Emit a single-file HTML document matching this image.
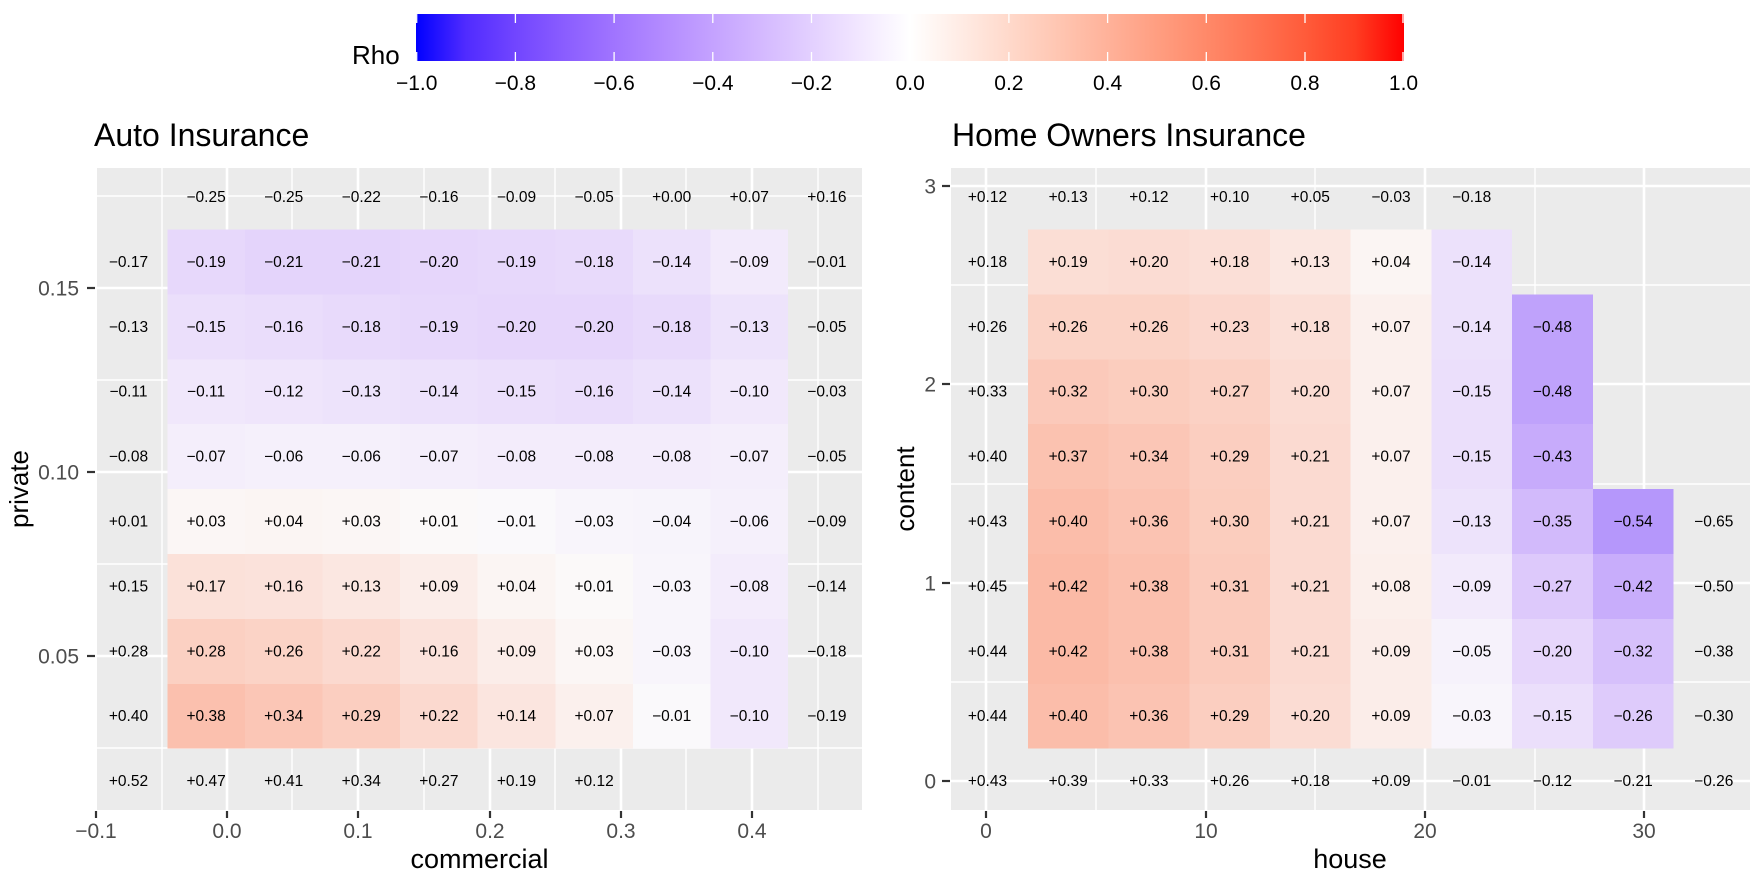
<!DOCTYPE html>
<html><head><meta charset="utf-8"><style>
html,body{margin:0;padding:0;background:#fff;}
svg{display:block;font-family:"Liberation Sans",Arial,sans-serif;}
</style></head><body>
<svg width="1750" height="882" viewBox="0 0 1750 882" xmlns="http://www.w3.org/2000/svg">
<defs>
<linearGradient id="cb" x1="0" y1="0" x2="1" y2="0">
<stop offset="0%" stop-color="rgb(0,0,255)"/>
<stop offset="5%" stop-color="rgb(80,43,255)"/>
<stop offset="10%" stop-color="rgb(113,69,255)"/>
<stop offset="15%" stop-color="rgb(138,93,255)"/>
<stop offset="20%" stop-color="rgb(160,116,255)"/>
<stop offset="25%" stop-color="rgb(179,139,255)"/>
<stop offset="30%" stop-color="rgb(196,162,255)"/>
<stop offset="35%" stop-color="rgb(212,185,255)"/>
<stop offset="40%" stop-color="rgb(227,208,255)"/>
<stop offset="45%" stop-color="rgb(242,231,255)"/>
<stop offset="50%" stop-color="rgb(255,255,255)"/>
<stop offset="55%" stop-color="rgb(255,236,229)"/>
<stop offset="60%" stop-color="rgb(255,217,203)"/>
<stop offset="65%" stop-color="rgb(255,198,178)"/>
<stop offset="70%" stop-color="rgb(255,178,154)"/>
<stop offset="75%" stop-color="rgb(255,158,129)"/>
<stop offset="80%" stop-color="rgb(255,137,105)"/>
<stop offset="85%" stop-color="rgb(255,115,82)"/>
<stop offset="90%" stop-color="rgb(255,91,58)"/>
<stop offset="95%" stop-color="rgb(255,62,34)"/>
<stop offset="100%" stop-color="rgb(255,0,0)"/>
</linearGradient>
</defs>

<!-- Colorbar legend -->
<rect x="416" y="14" width="988" height="47" fill="url(#cb)"/>
<g stroke="#fff" stroke-width="1.3">
<line x1="416.7" y1="14" x2="416.7" y2="23"/><line x1="416.7" y1="52" x2="416.7" y2="61"/>
<line x1="515.4" y1="14" x2="515.4" y2="23"/><line x1="515.4" y1="52" x2="515.4" y2="61"/>
<line x1="614.1" y1="14" x2="614.1" y2="23"/><line x1="614.1" y1="52" x2="614.1" y2="61"/>
<line x1="712.8" y1="14" x2="712.8" y2="23"/><line x1="712.8" y1="52" x2="712.8" y2="61"/>
<line x1="811.5" y1="14" x2="811.5" y2="23"/><line x1="811.5" y1="52" x2="811.5" y2="61"/>
<line x1="910.2" y1="14" x2="910.2" y2="23"/><line x1="910.2" y1="52" x2="910.2" y2="61"/>
<line x1="1008.9" y1="14" x2="1008.9" y2="23"/><line x1="1008.9" y1="52" x2="1008.9" y2="61"/>
<line x1="1107.6" y1="14" x2="1107.6" y2="23"/><line x1="1107.6" y1="52" x2="1107.6" y2="61"/>
<line x1="1206.3" y1="14" x2="1206.3" y2="23"/><line x1="1206.3" y1="52" x2="1206.3" y2="61"/>
<line x1="1305" y1="14" x2="1305" y2="23"/><line x1="1305" y1="52" x2="1305" y2="61"/>
<line x1="1403" y1="14" x2="1403" y2="23"/><line x1="1403" y1="52" x2="1403" y2="61"/>
</g>
<text x="352" y="64" font-size="26" fill="#000">Rho</text>
<g font-size="21" fill="#000" text-anchor="middle">
<text x="416.7" y="90">−1.0</text>
<text x="515.4" y="90">−0.8</text>
<text x="614.1" y="90">−0.6</text>
<text x="712.8" y="90">−0.4</text>
<text x="811.5" y="90">−0.2</text>
<text x="910.2" y="90">0.0</text>
<text x="1008.9" y="90">0.2</text>
<text x="1107.6" y="90">0.4</text>
<text x="1206.3" y="90">0.6</text>
<text x="1305" y="90">0.8</text>
<text x="1403.5" y="90">1.0</text>
</g>

<!-- Titles -->
<text x="94" y="146" font-size="32" fill="#000">Auto Insurance</text>
<text x="952" y="146" font-size="32" fill="#000">Home Owners Insurance</text>

<!-- ============ LEFT PANEL ============ -->
<rect x="97" y="168" width="765" height="642" fill="#EBEBEB"/>
<g stroke="#fff" stroke-width="1.4">
<line x1="162" y1="168" x2="162" y2="810"/>
<line x1="292" y1="168" x2="292" y2="810"/>
<line x1="424" y1="168" x2="424" y2="810"/>
<line x1="555" y1="168" x2="555" y2="810"/>
<line x1="686" y1="168" x2="686" y2="810"/>
<line x1="818" y1="168" x2="818" y2="810"/>
<line x1="97" y1="196" x2="862" y2="196"/>
<line x1="97" y1="380" x2="862" y2="380"/>
<line x1="97" y1="564" x2="862" y2="564"/>
<line x1="97" y1="748" x2="862" y2="748"/>
</g>
<g stroke="#fff" stroke-width="2.6">
<line x1="227" y1="168" x2="227" y2="810"/>
<line x1="358" y1="168" x2="358" y2="810"/>
<line x1="490" y1="168" x2="490" y2="810"/>
<line x1="621" y1="168" x2="621" y2="810"/>
<line x1="752" y1="168" x2="752" y2="810"/>
<line x1="97" y1="288" x2="862" y2="288"/>
<line x1="97" y1="472" x2="862" y2="472"/>
<line x1="97" y1="656" x2="862" y2="656"/>
</g>
<!-- left tiles -->
<g shape-rendering="crispEdges">
<!-- row1 -->
<rect x="167.3" y="229.5" width="78.1" height="65.4" fill="rgb(231,216,251)"/>
<rect x="244.9" y="229.5" width="78.1" height="65.4" fill="rgb(228,212,251)"/>
<rect x="322.5" y="229.5" width="78.1" height="65.4" fill="rgb(228,212,251)"/>
<rect x="400.1" y="229.5" width="78.1" height="65.4" fill="rgb(230,214,251)"/>
<rect x="477.7" y="229.5" width="78.1" height="65.4" fill="rgb(231,216,251)"/>
<rect x="555.3" y="229.5" width="78.1" height="65.4" fill="rgb(232,218,251)"/>
<rect x="632.9" y="229.5" width="78.1" height="65.4" fill="rgb(236,225,251)"/>
<rect x="710.5" y="229.5" width="77.6" height="65.4" fill="rgb(242,234,251)"/>
<!-- row2 -->
<rect x="167.3" y="294.4" width="78.1" height="65.4" fill="rgb(235,223,251)"/>
<rect x="244.9" y="294.4" width="78.1" height="65.4" fill="rgb(234,221,251)"/>
<rect x="322.5" y="294.4" width="78.1" height="65.4" fill="rgb(232,218,251)"/>
<rect x="400.1" y="294.4" width="78.1" height="65.4" fill="rgb(231,216,251)"/>
<rect x="477.7" y="294.4" width="78.1" height="65.4" fill="rgb(230,214,251)"/>
<rect x="555.3" y="294.4" width="78.1" height="65.4" fill="rgb(230,214,251)"/>
<rect x="632.9" y="294.4" width="78.1" height="65.4" fill="rgb(232,218,251)"/>
<rect x="710.5" y="294.4" width="77.6" height="65.4" fill="rgb(237,227,251)"/>
<!-- row3 -->
<rect x="167.3" y="359.3" width="78.1" height="65.4" fill="rgb(240,231,251)"/>
<rect x="244.9" y="359.3" width="78.1" height="65.4" fill="rgb(239,229,251)"/>
<rect x="322.5" y="359.3" width="78.1" height="65.4" fill="rgb(237,227,251)"/>
<rect x="400.1" y="359.3" width="78.1" height="65.4" fill="rgb(236,225,251)"/>
<rect x="477.7" y="359.3" width="78.1" height="65.4" fill="rgb(235,223,251)"/>
<rect x="555.3" y="359.3" width="78.1" height="65.4" fill="rgb(234,221,251)"/>
<rect x="632.9" y="359.3" width="78.1" height="65.4" fill="rgb(236,225,251)"/>
<rect x="710.5" y="359.3" width="77.6" height="65.4" fill="rgb(241,232,251)"/>
<!-- row4 -->
<rect x="167.3" y="424.2" width="78.1" height="65.4" fill="rgb(244,238,251)"/>
<rect x="244.9" y="424.2" width="78.1" height="65.4" fill="rgb(245,240,251)"/>
<rect x="322.5" y="424.2" width="78.1" height="65.4" fill="rgb(245,240,251)"/>
<rect x="400.1" y="424.2" width="78.1" height="65.4" fill="rgb(244,238,251)"/>
<rect x="477.7" y="424.2" width="78.1" height="65.4" fill="rgb(243,236,251)"/>
<rect x="555.3" y="424.2" width="78.1" height="65.4" fill="rgb(243,236,251)"/>
<rect x="632.9" y="424.2" width="78.1" height="65.4" fill="rgb(243,236,251)"/>
<rect x="710.5" y="424.2" width="77.6" height="65.4" fill="rgb(244,238,251)"/>
<!-- row5 -->
<rect x="167.3" y="489.1" width="78.1" height="65.4" fill="rgb(251,246,245)"/>
<rect x="244.9" y="489.1" width="78.1" height="65.4" fill="rgb(251,245,243)"/>
<rect x="322.5" y="489.1" width="78.1" height="65.4" fill="rgb(251,246,245)"/>
<rect x="400.1" y="489.1" width="78.1" height="65.4" fill="rgb(251,249,249)"/>
<rect x="477.7" y="489.1" width="78.1" height="65.4" fill="rgb(250,249,251)"/>
<rect x="555.3" y="489.1" width="78.1" height="65.4" fill="rgb(248,245,251)"/>
<rect x="632.9" y="489.1" width="78.1" height="65.4" fill="rgb(247,244,251)"/>
<rect x="710.5" y="489.1" width="77.6" height="65.4" fill="rgb(245,240,251)"/>
<!-- row6 -->
<rect x="167.3" y="554" width="78.1" height="65.4" fill="rgb(251,225,217)"/>
<rect x="244.9" y="554" width="78.1" height="65.4" fill="rgb(251,226,219)"/>
<rect x="322.5" y="554" width="78.1" height="65.4" fill="rgb(251,231,225)"/>
<rect x="400.1" y="554" width="78.1" height="65.4" fill="rgb(251,237,233)"/>
<rect x="477.7" y="554" width="78.1" height="65.4" fill="rgb(251,245,243)"/>
<rect x="555.3" y="554" width="78.1" height="65.4" fill="rgb(251,249,249)"/>
<rect x="632.9" y="554" width="78.1" height="65.4" fill="rgb(248,245,251)"/>
<rect x="710.5" y="554" width="77.6" height="65.4" fill="rgb(243,236,251)"/>
<!-- row7 -->
<rect x="167.3" y="618.9" width="78.1" height="65.4" fill="rgb(251,208,194)"/>
<rect x="244.9" y="618.9" width="78.1" height="65.4" fill="rgb(251,211,198)"/>
<rect x="322.5" y="618.9" width="78.1" height="65.4" fill="rgb(251,217,207)"/>
<rect x="400.1" y="618.9" width="78.1" height="65.4" fill="rgb(251,226,219)"/>
<rect x="477.7" y="618.9" width="78.1" height="65.4" fill="rgb(251,237,233)"/>
<rect x="555.3" y="618.9" width="78.1" height="65.4" fill="rgb(251,246,245)"/>
<rect x="632.9" y="618.9" width="78.1" height="65.4" fill="rgb(248,245,251)"/>
<rect x="710.5" y="618.9" width="77.6" height="65.4" fill="rgb(241,232,251)"/>
<!-- row8 -->
<rect x="167.3" y="683.8" width="78.1" height="64.9" fill="rgb(251,192,174)"/>
<rect x="244.9" y="683.8" width="78.1" height="64.9" fill="rgb(251,198,182)"/>
<rect x="322.5" y="683.8" width="78.1" height="64.9" fill="rgb(251,206,192)"/>
<rect x="400.1" y="683.8" width="78.1" height="64.9" fill="rgb(251,217,207)"/>
<rect x="477.7" y="683.8" width="78.1" height="64.9" fill="rgb(251,229,223)"/>
<rect x="555.3" y="683.8" width="78.1" height="64.9" fill="rgb(251,240,237)"/>
<rect x="632.9" y="683.8" width="78.1" height="64.9" fill="rgb(250,249,251)"/>
<rect x="710.5" y="683.8" width="77.6" height="64.9" fill="rgb(241,232,251)"/>
</g>
<!-- left texts -->
<g font-size="15.5" fill="#000" text-anchor="middle">
<text x="206.1" y="202">−0.25</text><text x="283.7" y="202">−0.25</text><text x="361.3" y="202">−0.22</text><text x="438.9" y="202">−0.16</text><text x="516.5" y="202">−0.09</text><text x="594.1" y="202">−0.05</text><text x="671.7" y="202">+0.00</text><text x="749.3" y="202">+0.07</text><text x="826.9" y="202">+0.16</text>
<text x="128.5" y="266.9">−0.17</text><text x="206.1" y="266.9">−0.19</text><text x="283.7" y="266.9">−0.21</text><text x="361.3" y="266.9">−0.21</text><text x="438.9" y="266.9">−0.20</text><text x="516.5" y="266.9">−0.19</text><text x="594.1" y="266.9">−0.18</text><text x="671.7" y="266.9">−0.14</text><text x="749.3" y="266.9">−0.09</text><text x="826.9" y="266.9">−0.01</text>
<text x="128.5" y="331.8">−0.13</text><text x="206.1" y="331.8">−0.15</text><text x="283.7" y="331.8">−0.16</text><text x="361.3" y="331.8">−0.18</text><text x="438.9" y="331.8">−0.19</text><text x="516.5" y="331.8">−0.20</text><text x="594.1" y="331.8">−0.20</text><text x="671.7" y="331.8">−0.18</text><text x="749.3" y="331.8">−0.13</text><text x="826.9" y="331.8">−0.05</text>
<text x="128.5" y="396.7">−0.11</text><text x="206.1" y="396.7">−0.11</text><text x="283.7" y="396.7">−0.12</text><text x="361.3" y="396.7">−0.13</text><text x="438.9" y="396.7">−0.14</text><text x="516.5" y="396.7">−0.15</text><text x="594.1" y="396.7">−0.16</text><text x="671.7" y="396.7">−0.14</text><text x="749.3" y="396.7">−0.10</text><text x="826.9" y="396.7">−0.03</text>
<text x="128.5" y="461.6">−0.08</text><text x="206.1" y="461.6">−0.07</text><text x="283.7" y="461.6">−0.06</text><text x="361.3" y="461.6">−0.06</text><text x="438.9" y="461.6">−0.07</text><text x="516.5" y="461.6">−0.08</text><text x="594.1" y="461.6">−0.08</text><text x="671.7" y="461.6">−0.08</text><text x="749.3" y="461.6">−0.07</text><text x="826.9" y="461.6">−0.05</text>
<text x="128.5" y="526.5">+0.01</text><text x="206.1" y="526.5">+0.03</text><text x="283.7" y="526.5">+0.04</text><text x="361.3" y="526.5">+0.03</text><text x="438.9" y="526.5">+0.01</text><text x="516.5" y="526.5">−0.01</text><text x="594.1" y="526.5">−0.03</text><text x="671.7" y="526.5">−0.04</text><text x="749.3" y="526.5">−0.06</text><text x="826.9" y="526.5">−0.09</text>
<text x="128.5" y="591.4">+0.15</text><text x="206.1" y="591.4">+0.17</text><text x="283.7" y="591.4">+0.16</text><text x="361.3" y="591.4">+0.13</text><text x="438.9" y="591.4">+0.09</text><text x="516.5" y="591.4">+0.04</text><text x="594.1" y="591.4">+0.01</text><text x="671.7" y="591.4">−0.03</text><text x="749.3" y="591.4">−0.08</text><text x="826.9" y="591.4">−0.14</text>
<text x="128.5" y="656.3">+0.28</text><text x="206.1" y="656.3">+0.28</text><text x="283.7" y="656.3">+0.26</text><text x="361.3" y="656.3">+0.22</text><text x="438.9" y="656.3">+0.16</text><text x="516.5" y="656.3">+0.09</text><text x="594.1" y="656.3">+0.03</text><text x="671.7" y="656.3">−0.03</text><text x="749.3" y="656.3">−0.10</text><text x="826.9" y="656.3">−0.18</text>
<text x="128.5" y="721.2">+0.40</text><text x="206.1" y="721.2">+0.38</text><text x="283.7" y="721.2">+0.34</text><text x="361.3" y="721.2">+0.29</text><text x="438.9" y="721.2">+0.22</text><text x="516.5" y="721.2">+0.14</text><text x="594.1" y="721.2">+0.07</text><text x="671.7" y="721.2">−0.01</text><text x="749.3" y="721.2">−0.10</text><text x="826.9" y="721.2">−0.19</text>
<text x="128.5" y="786.1">+0.52</text><text x="206.1" y="786.1">+0.47</text><text x="283.7" y="786.1">+0.41</text><text x="361.3" y="786.1">+0.34</text><text x="438.9" y="786.1">+0.27</text><text x="516.5" y="786.1">+0.19</text><text x="594.1" y="786.1">+0.12</text>
</g>
<!-- left axes -->
<g stroke="#333" stroke-width="2.2">
<line x1="87" y1="288" x2="95" y2="288"/>
<line x1="87" y1="472" x2="95" y2="472"/>
<line x1="87" y1="656" x2="95" y2="656"/>
<line x1="96" y1="811" x2="96" y2="818"/>
<line x1="227" y1="811" x2="227" y2="818"/>
<line x1="358" y1="811" x2="358" y2="818"/>
<line x1="490" y1="811" x2="490" y2="818"/>
<line x1="621" y1="811" x2="621" y2="818"/>
<line x1="752" y1="811" x2="752" y2="818"/>
</g>
<g font-size="21" fill="#4D4D4D" text-anchor="end">
<text x="79" y="295.5">0.15</text>
<text x="79" y="479.5">0.10</text>
<text x="79" y="663.5">0.05</text>
</g>
<g font-size="21" fill="#4D4D4D" text-anchor="middle">
<text x="96" y="838">−0.1</text>
<text x="227" y="838">0.0</text>
<text x="358" y="838">0.1</text>
<text x="490" y="838">0.2</text>
<text x="621" y="838">0.3</text>
<text x="752" y="838">0.4</text>
</g>
<text x="479.5" y="868" font-size="27" fill="#000" text-anchor="middle">commercial</text>
<text transform="translate(28,489) rotate(-90)" x="0" y="0" font-size="26" fill="#000" text-anchor="middle">private</text>

<!-- ============ RIGHT PANEL ============ -->
<rect x="951" y="168" width="799" height="642" fill="#EBEBEB"/>
<g stroke="#fff" stroke-width="1.4">
<line x1="1096" y1="168" x2="1096" y2="810"/>
<line x1="1315" y1="168" x2="1315" y2="810"/>
<line x1="1535" y1="168" x2="1535" y2="810"/>
<line x1="951" y1="682" x2="1750" y2="682"/>
<line x1="951" y1="484" x2="1750" y2="484"/>
<line x1="951" y1="285" x2="1750" y2="285"/>
</g>
<g stroke="#fff" stroke-width="2.6">
<line x1="986" y1="168" x2="986" y2="810"/>
<line x1="1206" y1="168" x2="1206" y2="810"/>
<line x1="1425" y1="168" x2="1425" y2="810"/>
<line x1="1644" y1="168" x2="1644" y2="810"/>
<line x1="951" y1="781" x2="1750" y2="781"/>
<line x1="951" y1="583" x2="1750" y2="583"/>
<line x1="951" y1="384" x2="1750" y2="384"/>
<line x1="951" y1="186" x2="1750" y2="186"/>
</g>
<!-- right tiles -->
<g shape-rendering="crispEdges">
<!-- row1 -->
<rect x="1027.9" y="229.5" width="81.2" height="65.4" fill="rgb(251,222,213)"/>
<rect x="1108.6" y="229.5" width="81.2" height="65.4" fill="rgb(251,220,211)"/>
<rect x="1189.3" y="229.5" width="81.2" height="65.4" fill="rgb(251,223,215)"/>
<rect x="1270" y="229.5" width="81.2" height="65.4" fill="rgb(251,231,225)"/>
<rect x="1350.7" y="229.5" width="81.2" height="65.4" fill="rgb(251,245,243)"/>
<rect x="1431.4" y="229.5" width="80.7" height="65.4" fill="rgb(236,225,251)"/>
<!-- row2 -->
<rect x="1027.9" y="294.4" width="81.2" height="65.4" fill="rgb(251,211,198)"/>
<rect x="1108.6" y="294.4" width="81.2" height="65.4" fill="rgb(251,211,198)"/>
<rect x="1189.3" y="294.4" width="81.2" height="65.4" fill="rgb(251,215,205)"/>
<rect x="1270" y="294.4" width="81.2" height="65.4" fill="rgb(251,223,215)"/>
<rect x="1350.7" y="294.4" width="81.2" height="65.4" fill="rgb(251,240,237)"/>
<rect x="1431.4" y="294.4" width="81.2" height="65.4" fill="rgb(236,225,251)"/>
<rect x="1512.1" y="294.4" width="80.7" height="65.4" fill="rgb(191,162,251)"/>
<!-- row3 -->
<rect x="1027.9" y="359.3" width="81.2" height="65.4" fill="rgb(251,201,186)"/>
<rect x="1108.6" y="359.3" width="81.2" height="65.4" fill="rgb(251,205,190)"/>
<rect x="1189.3" y="359.3" width="81.2" height="65.4" fill="rgb(251,209,196)"/>
<rect x="1270" y="359.3" width="81.2" height="65.4" fill="rgb(251,220,211)"/>
<rect x="1350.7" y="359.3" width="81.2" height="65.4" fill="rgb(251,240,237)"/>
<rect x="1431.4" y="359.3" width="81.2" height="65.4" fill="rgb(235,223,251)"/>
<rect x="1512.1" y="359.3" width="80.7" height="65.4" fill="rgb(191,162,251)"/>
<!-- row4 -->
<rect x="1027.9" y="424.2" width="81.2" height="65.4" fill="rgb(251,194,176)"/>
<rect x="1108.6" y="424.2" width="81.2" height="65.4" fill="rgb(251,198,182)"/>
<rect x="1189.3" y="424.2" width="81.2" height="65.4" fill="rgb(251,206,192)"/>
<rect x="1270" y="424.2" width="81.2" height="65.4" fill="rgb(251,218,209)"/>
<rect x="1350.7" y="424.2" width="81.2" height="65.4" fill="rgb(251,240,237)"/>
<rect x="1431.4" y="424.2" width="81.2" height="65.4" fill="rgb(235,223,251)"/>
<rect x="1512.1" y="424.2" width="80.7" height="65.4" fill="rgb(199,171,251)"/>
<!-- row5 -->
<rect x="1027.9" y="489.1" width="81.2" height="65.4" fill="rgb(251,189,170)"/>
<rect x="1108.6" y="489.1" width="81.2" height="65.4" fill="rgb(251,195,178)"/>
<rect x="1189.3" y="489.1" width="81.2" height="65.4" fill="rgb(251,205,190)"/>
<rect x="1270" y="489.1" width="81.2" height="65.4" fill="rgb(251,218,209)"/>
<rect x="1350.7" y="489.1" width="81.2" height="65.4" fill="rgb(251,240,237)"/>
<rect x="1431.4" y="489.1" width="81.2" height="65.4" fill="rgb(237,227,251)"/>
<rect x="1512.1" y="489.1" width="81.2" height="65.4" fill="rgb(210,186,251)"/>
<rect x="1592.8" y="489.1" width="80.7" height="65.4" fill="rgb(181,151,251)"/>
<!-- row6 -->
<rect x="1027.9" y="554" width="81.2" height="65.4" fill="rgb(251,186,166)"/>
<rect x="1108.6" y="554" width="81.2" height="65.4" fill="rgb(251,192,174)"/>
<rect x="1189.3" y="554" width="81.2" height="65.4" fill="rgb(251,203,188)"/>
<rect x="1270" y="554" width="81.2" height="65.4" fill="rgb(251,218,209)"/>
<rect x="1350.7" y="554" width="81.2" height="65.4" fill="rgb(251,239,235)"/>
<rect x="1431.4" y="554" width="81.2" height="65.4" fill="rgb(242,234,251)"/>
<rect x="1512.1" y="554" width="81.2" height="65.4" fill="rgb(221,201,251)"/>
<rect x="1592.8" y="554" width="80.7" height="65.4" fill="rgb(200,173,251)"/>
<!-- row7 -->
<rect x="1027.9" y="618.9" width="81.2" height="65.4" fill="rgb(251,186,166)"/>
<rect x="1108.6" y="618.9" width="81.2" height="65.4" fill="rgb(251,192,174)"/>
<rect x="1189.3" y="618.9" width="81.2" height="65.4" fill="rgb(251,203,188)"/>
<rect x="1270" y="618.9" width="81.2" height="65.4" fill="rgb(251,218,209)"/>
<rect x="1350.7" y="618.9" width="81.2" height="65.4" fill="rgb(251,237,233)"/>
<rect x="1431.4" y="618.9" width="81.2" height="65.4" fill="rgb(246,242,251)"/>
<rect x="1512.1" y="618.9" width="81.2" height="65.4" fill="rgb(230,214,251)"/>
<rect x="1592.8" y="618.9" width="80.7" height="65.4" fill="rgb(214,192,251)"/>
<!-- row8 -->
<rect x="1027.9" y="683.8" width="81.2" height="64.9" fill="rgb(251,189,170)"/>
<rect x="1108.6" y="683.8" width="81.2" height="64.9" fill="rgb(251,195,178)"/>
<rect x="1189.3" y="683.8" width="81.2" height="64.9" fill="rgb(251,206,192)"/>
<rect x="1270" y="683.8" width="81.2" height="64.9" fill="rgb(251,220,211)"/>
<rect x="1350.7" y="683.8" width="81.2" height="64.9" fill="rgb(251,237,233)"/>
<rect x="1431.4" y="683.8" width="81.2" height="64.9" fill="rgb(248,245,251)"/>
<rect x="1512.1" y="683.8" width="81.2" height="64.9" fill="rgb(235,223,251)"/>
<rect x="1592.8" y="683.8" width="80.7" height="64.9" fill="rgb(222,203,251)"/>
</g>
<!-- right texts -->
<g font-size="15.5" fill="#000" text-anchor="middle">
<text x="987.5" y="202">+0.12</text><text x="1068.2" y="202">+0.13</text><text x="1148.9" y="202">+0.12</text><text x="1229.6" y="202">+0.10</text><text x="1310.3" y="202">+0.05</text><text x="1391" y="202">−0.03</text><text x="1471.7" y="202">−0.18</text>
<text x="987.5" y="266.9">+0.18</text><text x="1068.2" y="266.9">+0.19</text><text x="1148.9" y="266.9">+0.20</text><text x="1229.6" y="266.9">+0.18</text><text x="1310.3" y="266.9">+0.13</text><text x="1391" y="266.9">+0.04</text><text x="1471.7" y="266.9">−0.14</text>
<text x="987.5" y="331.8">+0.26</text><text x="1068.2" y="331.8">+0.26</text><text x="1148.9" y="331.8">+0.26</text><text x="1229.6" y="331.8">+0.23</text><text x="1310.3" y="331.8">+0.18</text><text x="1391" y="331.8">+0.07</text><text x="1471.7" y="331.8">−0.14</text><text x="1552.4" y="331.8">−0.48</text>
<text x="987.5" y="396.7">+0.33</text><text x="1068.2" y="396.7">+0.32</text><text x="1148.9" y="396.7">+0.30</text><text x="1229.6" y="396.7">+0.27</text><text x="1310.3" y="396.7">+0.20</text><text x="1391" y="396.7">+0.07</text><text x="1471.7" y="396.7">−0.15</text><text x="1552.4" y="396.7">−0.48</text>
<text x="987.5" y="461.6">+0.40</text><text x="1068.2" y="461.6">+0.37</text><text x="1148.9" y="461.6">+0.34</text><text x="1229.6" y="461.6">+0.29</text><text x="1310.3" y="461.6">+0.21</text><text x="1391" y="461.6">+0.07</text><text x="1471.7" y="461.6">−0.15</text><text x="1552.4" y="461.6">−0.43</text>
<text x="987.5" y="526.5">+0.43</text><text x="1068.2" y="526.5">+0.40</text><text x="1148.9" y="526.5">+0.36</text><text x="1229.6" y="526.5">+0.30</text><text x="1310.3" y="526.5">+0.21</text><text x="1391" y="526.5">+0.07</text><text x="1471.7" y="526.5">−0.13</text><text x="1552.4" y="526.5">−0.35</text><text x="1633.1" y="526.5">−0.54</text><text x="1713.8" y="526.5">−0.65</text>
<text x="987.5" y="591.4">+0.45</text><text x="1068.2" y="591.4">+0.42</text><text x="1148.9" y="591.4">+0.38</text><text x="1229.6" y="591.4">+0.31</text><text x="1310.3" y="591.4">+0.21</text><text x="1391" y="591.4">+0.08</text><text x="1471.7" y="591.4">−0.09</text><text x="1552.4" y="591.4">−0.27</text><text x="1633.1" y="591.4">−0.42</text><text x="1713.8" y="591.4">−0.50</text>
<text x="987.5" y="656.3">+0.44</text><text x="1068.2" y="656.3">+0.42</text><text x="1148.9" y="656.3">+0.38</text><text x="1229.6" y="656.3">+0.31</text><text x="1310.3" y="656.3">+0.21</text><text x="1391" y="656.3">+0.09</text><text x="1471.7" y="656.3">−0.05</text><text x="1552.4" y="656.3">−0.20</text><text x="1633.1" y="656.3">−0.32</text><text x="1713.8" y="656.3">−0.38</text>
<text x="987.5" y="721.2">+0.44</text><text x="1068.2" y="721.2">+0.40</text><text x="1148.9" y="721.2">+0.36</text><text x="1229.6" y="721.2">+0.29</text><text x="1310.3" y="721.2">+0.20</text><text x="1391" y="721.2">+0.09</text><text x="1471.7" y="721.2">−0.03</text><text x="1552.4" y="721.2">−0.15</text><text x="1633.1" y="721.2">−0.26</text><text x="1713.8" y="721.2">−0.30</text>
<text x="987.5" y="786.1">+0.43</text><text x="1068.2" y="786.1">+0.39</text><text x="1148.9" y="786.1">+0.33</text><text x="1229.6" y="786.1">+0.26</text><text x="1310.3" y="786.1">+0.18</text><text x="1391" y="786.1">+0.09</text><text x="1471.7" y="786.1">−0.01</text><text x="1552.4" y="786.1">−0.12</text><text x="1633.1" y="786.1">−0.21</text><text x="1713.8" y="786.1">−0.26</text>
</g>
<!-- right axes -->
<g stroke="#333" stroke-width="2.2">
<line x1="942" y1="186" x2="950" y2="186"/>
<line x1="942" y1="384" x2="950" y2="384"/>
<line x1="942" y1="583" x2="950" y2="583"/>
<line x1="942" y1="781" x2="950" y2="781"/>
<line x1="986" y1="811" x2="986" y2="818"/>
<line x1="1206" y1="811" x2="1206" y2="818"/>
<line x1="1425" y1="811" x2="1425" y2="818"/>
<line x1="1644" y1="811" x2="1644" y2="818"/>
</g>
<g font-size="21" fill="#4D4D4D" text-anchor="end">
<text x="936" y="193.5">3</text>
<text x="936" y="391.5">2</text>
<text x="936" y="590.5">1</text>
<text x="936" y="788.5">0</text>
</g>
<g font-size="21" fill="#4D4D4D" text-anchor="middle">
<text x="986" y="838">0</text>
<text x="1206" y="838">10</text>
<text x="1425" y="838">20</text>
<text x="1644" y="838">30</text>
</g>
<text x="1350" y="868" font-size="27" fill="#000" text-anchor="middle">house</text>
<text transform="translate(914,489) rotate(-90)" x="0" y="0" font-size="26" fill="#000" text-anchor="middle">content</text>
</svg>
</body></html>
